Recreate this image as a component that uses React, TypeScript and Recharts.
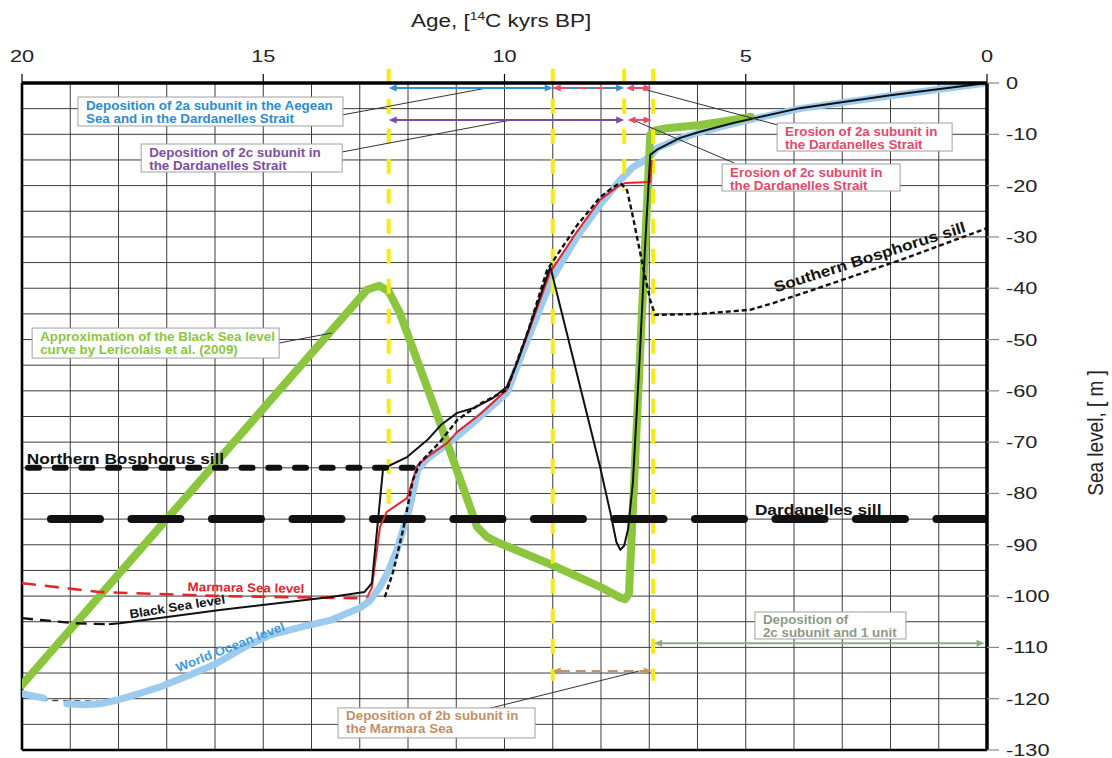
import React from "react";
import {
  ComposedChart,
  Line,
  XAxis,
  YAxis,
  CartesianGrid,
  ReferenceLine,
  ReferenceDot,
} from "recharts";

const FONT = '"Liberation Sans", Arial, Helvetica, sans-serif';

// axis ticks: grid every 1 kyr / 5 m, labels every 5 kyr / 10 m
const ageTicks = [0, 1, 2, 3, 4, 5, 6, 7, 8, 9, 10, 11, 12, 13, 14, 15, 16, 17, 18, 19, 20];
const ageLabels = [20, 15, 10, 5, 0];
const levelTicks = [
  0, -5, -10, -15, -20, -25, -30, -35, -40, -45, -50, -55, -60, -65, -70, -75, -80, -85, -90,
  -95, -100, -105, -110, -115, -120, -125, -130,
];
const levelLabels = [0, -10, -20, -30, -40, -50, -60, -70, -80, -90, -100, -110, -120, -130];

// [age kyr BP, sea level m]
const worldOceanStart = [[20, -119], [19.55, -119.9]];
const worldOceanGap = [[19.6, -120.3], [18.4, -120.5]];
const worldOcean = [
  [19.07, -121], [18.7, -121.2], [18.38, -121], [18.0, -120.2], [17.5, -118.8], [17.14, -117.7],
  [16.5, -115.3], [16.0, -113.3], [15.4, -110.0], [14.86, -107.6], [14.2, -106.0], [13.6, -104.7],
  [13.0, -102.3], [12.8, -101.0], [12.58, -98.2], [12.4, -95.0], [12.23, -91.0], [12.1, -87.0],
  [11.96, -82.6], [11.8, -75.4], [11.6, -73.2], [11.2, -70.5], [11.0, -69], [10.5, -65],
  [9.95, -60.4], [9.5, -49.5], [9.02, -38.2], [8.5, -30], [8.0, -23.5], [7.6, -18.9],
  [7.34, -16.4], [6.98, -14.4], [6.84, -12.7], [6.36, -10.8], [5.95, -9.6], [5.26, -7.9],
  [4.7, -6.7], [3.88, -5.0], [2, -2.5], [0, 0],
];
const blackSeaStart = [[20, -104.3], [18.9, -105.3], [18.2, -105.5]];
const blackSea = [
  [18.2, -105.5], [17.97, -105.3], [15.9, -102.7], [13.6, -100.2], [12.9, -99.2], [12.75, -97.5],
  [12.52, -75.5], [12.37, -74.5], [12.02, -72.9], [11.6, -69.6], [11.3, -66.5], [10.98, -64.3],
  [10.65, -63.4], [10.24, -61.4], [9.95, -59.2], [9.74, -54.6], [9.41, -45.6], [9.05, -35.8],
  [8.02, -74.8], [7.8, -84], [7.68, -89.5], [7.6, -91], [7.52, -90.2], [7.44, -87], [7.34, -78],
  [7.19, -52], [7.09, -32.5], [6.98, -14], [6.84, -13], [6.36, -10.7], [5.95, -9.5],
  [5.26, -7.8], [4.7, -6.6], [3.88, -4.9], [2, -2.4], [0, 0],
];
const marmaraStart = [
  [20, -97.5], [18.4, -99.2], [17.14, -99.6], [15.9, -100], [13.14, -100.4], [12.85, -100.4],
];
const marmara = [
  [12.85, -100.3], [12.75, -98.4], [12.58, -86.5], [12.44, -83.6], [12.02, -80.9], [11.8, -74.5],
  [11.6, -72.9], [11.19, -70.2], [10.98, -68], [10.5, -64.5], [9.95, -59.8], [9.5, -48.5],
  [9.06, -37], [8.5, -29], [8.02, -22.8], [7.67, -20.3], [7.5, -19.5], [6.98, -19.3], [6.95, -15],
];
const southernSillPath = [
  [12.48, -100.2], [12.3, -95], [12.1, -87], [11.9, -77.4], [11.75, -74], [11.34, -70],
  [10.98, -65.7], [10.5, -62.5], [9.95, -59.8], [9.5, -48], [9.12, -36.5], [8.5, -27.8],
  [8.02, -22.3], [7.75, -20.3], [7.6, -19.5], [7.46, -20.9], [7.34, -26], [7.13, -35.8],
  [6.98, -42.3], [6.88, -45.2], [5.95, -45], [4.91, -44.2], [4.43, -42.9], [3.19, -39],
  [1.8, -34.5], [0, -28.3],
];
const lericolais = [
  [20, -117.3], [12.85, -40.3], [12.6, -39.5], [12.4, -40.6], [12.17, -44.8], [11.48, -62.5],
  [10.7, -83], [10.57, -86.5], [10.36, -88.5], [10.1, -89.7], [9.0, -94], [8.02, -98.2],
  [7.6, -100.3], [7.5, -100.6], [7.42, -99.5], [6.98, -10.1], [6.9, -9.3], [6.63, -8.8],
  [5.95, -8.2], [5.26, -7.2], [4.9, -6.6],
];
const northernSill = [[19.876, -75], [11.73, -75]];
const dardanellesSill = [[19.4, -85], [0, -85]];

// yellow boundaries [age, top, bottom]
const boundaries = [[12.4, 2.8, -84], [9.0, 2.8, -116.5], [7.52, 2.8, -21], [6.92, 2.8, -116.5]];

const pts = (a: number[][]) => a.map(([x, y]) => ({ x, y }));

// double-headed arrows: [x1, x2, y], colour, heads, dash
const arrows: { x1: number; x2: number; y: number; color: string; s: boolean; e: boolean; dash?: string }[] = [
  { x1: 12.4, x2: 9.0, y: -0.97, color: "#2f8fd3", s: true, e: true },
  { x1: 9.0, x2: 7.52, y: -0.97, color: "#2f8fd3", s: false, e: true },
  { x1: 9.0, x2: 7.7, y: -0.97, color: "#ea4a6c", s: true, e: false, dash: "9 9" },
  { x1: 7.48, x2: 6.95, y: -0.97, color: "#ea4a6c", s: true, e: true },
  { x1: 12.4, x2: 7.52, y: -7.2, color: "#7c4c9f", s: true, e: true },
  { x1: 7.45, x2: 6.95, y: -7.2, color: "#ea4a6c", s: true, e: true },
  { x1: 9.0, x2: 6.95, y: -114.6, color: "#c9916a", s: true, e: true, dash: "10 6" },
  { x1: 6.9, x2: 0.05, y: -109.2, color: "#92a982", s: true, e: true },
];

const leaders = [
  [13.37, -6.24, 10.36, -0.97],
  [13.37, -13.45, 9.87, -7.21],
  [14.67, -50.68, 13.58, -48.73],
  [7.21, -0.97, 4.33, -8.19],
  [7.34, -7.21, 5.24, -15.59],
  [10.53, -122.4, 7.21, -114.6],
];

const boxes = [
  { x: 18.84, y: -2.73, w: 265, h: 29, color: "#2b8dd0", lines: ["Deposition of 2a subunit in the Aegean", "Sea and in the Dardanelles Strait"] },
  { x: 17.53, y: -11.89, w: 201, h: 28, color: "#7d4e9f", lines: ["Deposition of 2c subunit in", "the Dardanelles Strait"] },
  { x: 19.79, y: -47.76, w: 247, h: 30, color: "#8cc63f", lines: ["Approximation of the Black Sea level", "curve by Lericolais et al. (2009)"] },
  { x: 4.35, y: -7.8, w: 175, h: 28, color: "#e6486a", lines: ["Erosion of 2a subunit in", "the Dardanelles Strait"] },
  { x: 5.49, y: -15.79, w: 178, h: 27, color: "#e6486a", lines: ["Erosion of 2c subunit in", "the Dardanelles Strait"] },
  { x: 13.45, y: -121.8, w: 197, h: 30, color: "#c58f63", lines: ["Deposition of 2b subunit in", "the Marmara Sea"] },
  { x: 4.81, y: -103.1, w: 151, h: 27, color: "#8e9a84", lines: ["Deposition of", "2c subunit and 1 unit"] },
];

const curveLabels = [
  { text: "Marmara Sea level", x: 15.36, y: -99.2, angle: 1, color: "#e2262d", size: 12.5, sx: 1.07, anchor: "middle" },
  { text: "Black Sea level", x: 16.77, y: -102.9, angle: -9, color: "#111", size: 12.5, sx: 1.07, anchor: "middle" },
  { text: "World Ocean level", x: 15.65, y: -110.7, angle: -21.5, color: "#3f9bd8", size: 12.5, sx: 1.07, anchor: "middle" },
  { text: "Southern Bosphorus sill", x: 2.4, y: -34.9, angle: -17.7, color: "#111", size: 15, sx: 1.15, anchor: "middle" },
  { text: "Northern Bosphorus sill", x: 19.9, y: -74.3, angle: 0, color: "#111", size: 15, sx: 1.15, anchor: "start" },
  { text: "Dardanelles sill", x: 4.81, y: -84.2, angle: 0, color: "#111", size: 15, sx: 1.15, anchor: "start" },
];

const XTick = (p: any) => {
  const v = p.payload.value;
  if (!ageLabels.includes(v)) return <g />;
  return (
    <g>
      <line x1={p.x} x2={p.x} y1={p.y} y2={p.y - 9} stroke="#000" strokeWidth={1.2} />
      <text transform={`translate(${p.x} ${p.y - 21}) scale(1.28 1)`} textAnchor="middle" fontSize={17} fontFamily={FONT} fill="#222">
        {v}
      </text>
    </g>
  );
};

const YTick = (p: any) => {
  const v = p.payload.value;
  if (!levelLabels.includes(v)) return <g />;
  return (
    <g>
      <line x1={p.x} x2={p.x + 12} y1={p.y} y2={p.y} stroke="#888" strokeWidth={1.2} />
      <text transform={`translate(${p.x + 19} ${p.y + 6}) scale(1.28 1)`} textAnchor="start" fontSize={17} fontFamily={FONT} fill="#222">
        {v}
      </text>
    </g>
  );
};

function arrowShape(color: string, start: boolean, end: boolean, dash?: string) {
  return (p: any) => {
    const { x1, y1, x2, y2 } = p;
    const a = Math.atan2(y2 - y1, x2 - x1);
    const L = 8;
    const H = 3.5;
    const head = (x: number, y: number, ang: number) => {
      const bx = x - L * Math.cos(ang);
      const by = y - L * Math.sin(ang);
      const px = -Math.sin(ang) * H;
      const py = Math.cos(ang) * H;
      return `${x},${y} ${bx + px},${by + py} ${bx - px},${by - py}`;
    };
    const sx = start ? x1 + (L - 1) * Math.cos(a) : x1;
    const sy = start ? y1 + (L - 1) * Math.sin(a) : y1;
    const ex = end ? x2 - (L - 1) * Math.cos(a) : x2;
    const ey = end ? y2 - (L - 1) * Math.sin(a) : y2;
    return (
      <g>
        <line x1={sx} y1={sy} x2={ex} y2={ey} stroke={color} strokeWidth={2} strokeDasharray={dash} />
        {start && <polygon points={head(x1, y1, a + Math.PI)} fill={color} />}
        {end && <polygon points={head(x2, y2, a)} fill={color} />}
      </g>
    );
  };
}

function boxShape(b: (typeof boxes)[number]) {
  return (p: any) => (
    <g>
      <rect x={p.cx} y={p.cy} width={b.w} height={b.h} fill="#fff" stroke="#a0a0a0" strokeWidth={1} />
      {b.lines.map((t, i) => (
        <text
          key={i}
          transform={`translate(${p.cx + 8} ${p.cy + 12.5 + i * 13}) scale(1.07 1)`}
          fontSize={12.5}
          fontWeight="bold"
          fontFamily={FONT}
          fill={b.color}
        >
          {t}
        </text>
      ))}
    </g>
  );
}

function labelShape(l: (typeof curveLabels)[number]) {
  return (p: any) => (
    <text
      transform={`translate(${p.cx} ${p.cy}) rotate(${l.angle}) scale(${l.sx} 1)`}
      textAnchor={l.anchor as any}
      fontSize={l.size}
      fontWeight="bold"
      fontFamily={FONT}
      fill={l.color}
    >
      {l.text}
    </text>
  );
}

const ageTitle = (p: any) => (
  <text transform={`translate(${p.cx} ${p.cy}) scale(1.25 1)`} textAnchor="middle" fontSize={18} fontFamily={FONT} fill="#222">
    Age, [<tspan fontSize={11} dy={-7}>14</tspan>
    <tspan dy={7}>C kyrs BP]</tspan>
  </text>
);

const levelTitle = (p: any) => (
  <text transform={`translate(${p.cx} ${p.cy}) rotate(-90) scale(1 1.2)`} textAnchor="middle" fontSize={19} fontFamily={FONT} fill="#222">
    Sea level, [ m ]
  </text>
);

const lineProps = {
  type: "linear" as const,
  dataKey: "y",
  dot: false,
  activeDot: false,
  isAnimationActive: false,
  strokeLinejoin: "round" as const,
  legendType: "none" as const,
};

export default function App() {
  return (
    <div style={{ position: "absolute", left: 0, top: 0, width: 1112, height: 758, background: "#fff" }}>
      <ComposedChart width={1112} height={758} margin={{ top: 43, right: 65, left: 22, bottom: 8 }}>
        <CartesianGrid stroke="#3c3c3c" strokeWidth={1} />
        <XAxis
          xAxisId={0}
          dataKey="x"
          type="number"
          orientation="top"
          reversed
          domain={[0, 20]}
          ticks={ageTicks}
          interval={0}
          height={40}
          tickLine={false}
          tickSize={0}
          tickMargin={0}
          axisLine={{ stroke: "#000", strokeWidth: 3.5 }}
          tick={XTick}
          allowDataOverflow
        />
        <YAxis
          yAxisId={0}
          type="number"
          orientation="right"
          domain={[-130, 0]}
          ticks={levelTicks}
          interval={0}
          width={60}
          tickLine={false}
          tickSize={0}
          tickMargin={0}
          axisLine={{ stroke: "#000", strokeWidth: 3.5 }}
          tick={YTick}
          allowDataOverflow
        />
        <ReferenceLine x={20} stroke="#000" strokeWidth={2.6} ifOverflow="visible" />
        <ReferenceLine y={-130} stroke="#000" strokeWidth={2.6} ifOverflow="visible" />

        <Line {...lineProps} name="wo-gap" data={pts(worldOceanGap)} stroke="#444" strokeWidth={1.4} strokeDasharray="6 5" />
        <Line {...lineProps} name="wo-start" data={pts(worldOceanStart)} stroke="#9dcbee" strokeWidth={7} strokeLinecap="round" />
        <Line {...lineProps} name="World Ocean level" data={pts(worldOcean)} stroke="#9dcbee" strokeWidth={7} strokeLinecap="round" />
        <Line {...lineProps} name="Lericolais" data={pts(lericolais)} stroke="#8cc63f" strokeWidth={8} strokeLinecap="round" />

        {boundaries.map(([x, top, bottom], i) => (
          <ReferenceLine
            key={`b${i}`}
            segment={[{ x, y: top }, { x, y: bottom }]}
            stroke="#f6ec15"
            strokeWidth={4}
            strokeDasharray="15 15"
            ifOverflow="visible"
          />
        ))}

        <Line {...lineProps} name="Northern sill" data={pts(northernSill)} stroke="#111" strokeWidth={6} strokeDasharray="11 15.7" strokeLinecap="round" />
        <Line {...lineProps} name="Dardanelles sill" data={pts(dardanellesSill)} stroke="#111" strokeWidth={8} strokeDasharray="49 31.5" strokeLinecap="round" />

        <Line {...lineProps} name="mm-start" data={pts(marmaraStart)} stroke="#e3262d" strokeWidth={2.6} strokeDasharray="14 9" />
        <Line {...lineProps} name="Marmara Sea level" data={pts(marmara)} stroke="#e3262d" strokeWidth={2} />
        <Line {...lineProps} name="bs-start" data={pts(blackSeaStart)} stroke="#111" strokeWidth={2.4} strokeDasharray="11 7" />
        <Line {...lineProps} name="Black Sea level" data={pts(blackSea)} stroke="#111" strokeWidth={2} />
        <Line {...lineProps} name="Southern sill" data={pts(southernSillPath)} stroke="#111" strokeWidth={2.4} strokeDasharray="5 3" />

        {leaders.map(([x1, y1, x2, y2], i) => (
          <ReferenceLine key={`l${i}`} segment={[{ x: x1, y: y1 }, { x: x2, y: y2 }]} stroke="#333" strokeWidth={1} ifOverflow="visible" />
        ))}

        {arrows.map((a, i) => (
          <ReferenceLine
            key={`a${i}`}
            segment={[{ x: a.x1, y: a.y }, { x: a.x2, y: a.y }]}
            ifOverflow="visible"
            shape={arrowShape(a.color, a.s, a.e, a.dash)}
          />
        ))}

        {boxes.map((b, i) => (
          <ReferenceDot key={`t${i}`} x={b.x} y={b.y} ifOverflow="visible" shape={boxShape(b)} />
        ))}
        {curveLabels.map((l, i) => (
          <ReferenceDot key={`c${i}`} x={l.x} y={l.y} ifOverflow="visible" shape={labelShape(l)} />
        ))}

        <ReferenceDot x={10.07} y={10.9} ifOverflow="visible" shape={ageTitle} />
        <ReferenceDot x={-2.41} y={-68.2} ifOverflow="visible" shape={levelTitle} />
      </ComposedChart>
    </div>
  );
}
